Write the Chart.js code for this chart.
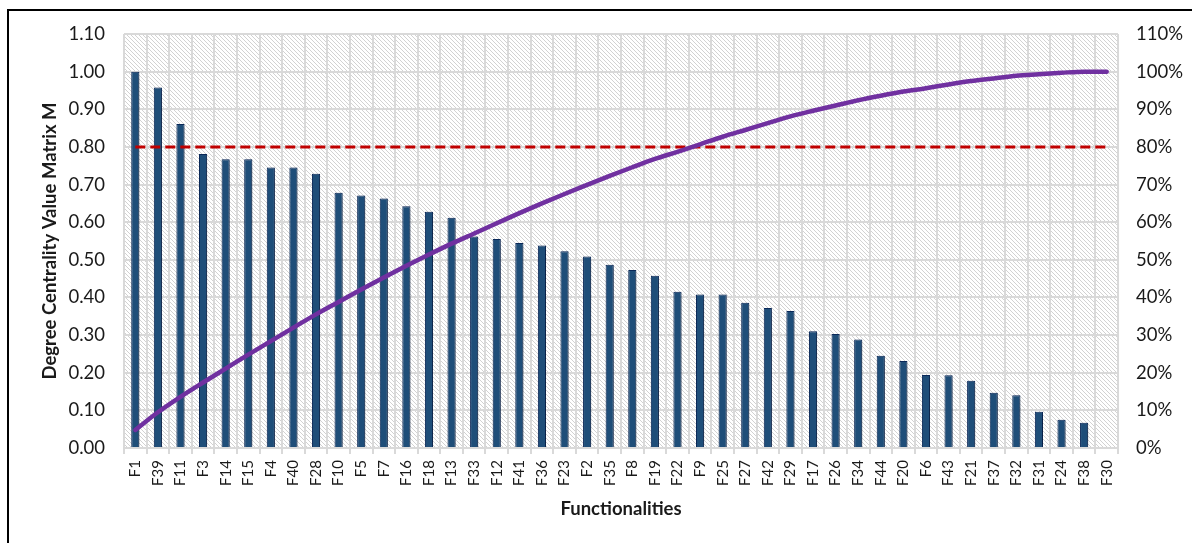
<!DOCTYPE html>
<html>
<head>
<meta charset="utf-8">
<script src="https://cdn.jsdelivr.net/npm/chart.js@4.4.0/dist/chart.umd.min.js"></script>
<style>
  html, body { margin: 0; padding: 0; background: #fff; overflow: hidden; }
  #wrap { position: relative; width: 1192px; height: 543px; }
  #frame { position: absolute; left: 7px; top: 9px; width: 1220px; height: 600px; border: 2px solid #000; }
  #c { position: absolute; left: 0; top: 0; }
</style>
</head>
<body>
<div id="wrap">
  <div id="frame"></div>
  <canvas id="c" width="1192" height="543"></canvas>
</div>
<script>
// degree centrality pareto chart

// --- data ---
const categories = ['F1','F39','F11','F3','F14','F15','F4','F40','F28','F10','F5','F7','F16','F18','F13','F33','F12','F41','F36','F23','F2','F35','F8','F19','F22','F9','F25','F27','F42','F29','F17','F26','F34','F44','F20','F6','F43','F21','F37','F32','F31','F24','F38','F30'];

const degree = [1.00,0.958,0.861,0.781,0.767,0.767,0.745,0.745,0.729,0.678,0.671,0.663,0.642,0.628,0.612,0.562,0.555,0.545,0.538,0.523,0.509,0.487,0.473,0.458,0.415,0.408,0.408,0.386,0.372,0.364,0.310,0.303,0.288,0.245,0.231,0.194,0.193,0.179,0.147,0.140,0.096,0.075,0.067,0];

// cumulative share, percent (right axis)
const cumulative = [4.8,9.5,13.6,17.4,21.1,24.8,28.4,32.0,35.5,38.8,42.1,45.3,48.4,51.4,54.3,57.0,59.7,62.4,65.0,67.5,69.9,72.3,74.6,76.8,78.7,80.7,82.7,84.5,86.3,88.1,89.6,91.0,92.4,93.6,94.7,95.6,96.6,97.5,98.2,98.9,99.3,99.7,100,100];

// 0.80 cut-off line, from first to last category
const cutoffCats = ['F1', 'F30'];
const cutoff = [0.80, 0.80];

const leftTicks = [0,0.1,0.2,0.3,0.4,0.5,0.6,0.7,0.8,0.9,1.0,1.1];

// --- helpers ---
const FONT = 'Lato, "Open Sans", sans-serif';
const TXT = '#1a1a1a';
const GRID = '#d9d9d9';

function hatch(ctx) {
  const p = document.createElement('canvas');
  p.width = 4; p.height = 4;
  const g = p.getContext('2d');
  g.fillStyle = '#fff';
  g.fillRect(0, 0, 4, 4);
  g.strokeStyle = '#d2d2d2';
  g.lineWidth = 1;
  g.beginPath();
  g.moveTo(0, 0); g.lineTo(4, 4);
  g.moveTo(-1, 3); g.lineTo(1, 5);
  g.moveTo(3, -1); g.lineTo(5, 1);
  g.stroke();
  return ctx.createPattern(p, 'repeat');
}

const plotBg = {
  id: 'plotBg',
  beforeDraw(chart) {
    const { ctx, chartArea: a } = chart;
    ctx.save();
    ctx.fillStyle = hatch(ctx);
    ctx.fillRect(a.left, a.top, a.width, a.height);
    ctx.restore();
  }
};

const barShadow = {
  id: 'barShadow',
  beforeDatasetDraw(chart, args) {
    if (args.meta.type !== 'bar') return;
    const ctx = chart.ctx;
    ctx.save();
    ctx.shadowColor = 'rgba(0,0,0,0.35)';
    ctx.shadowBlur = 6;
    ctx.shadowOffsetX = 3;
    ctx.shadowOffsetY = 2;
  },
  afterDatasetDraw(chart, args) {
    if (args.meta.type === 'bar') chart.ctx.restore();
  }
};

// --- chart ---
new Chart(document.getElementById('c'), {
  data: {
    labels: categories,
    datasets: [
      {
        type: 'line',
        label: 'cumulative',
        data: cumulative,
        yAxisID: 'y1',
        borderColor: '#7030a0',
        borderWidth: 4.5,
        borderCapStyle: 'round',
        pointRadius: 0,
        cubicInterpolationMode: 'monotone',
        order: 1
      },
      {
        type: 'line',
        label: 'cut-off',
        data: cutoffCats.map((c, i) => ({ x: c, y: cutoff[i] })),
        yAxisID: 'y',
        borderColor: '#c00000',
        borderWidth: 3,
        borderDash: [10, 5],
        pointRadius: 0,
        order: 2
      },
      {
        type: 'bar',
        label: 'degree',
        data: degree,
        yAxisID: 'y',
        backgroundColor: '#1f4e79',
        borderColor: '#0b2a5c',
        borderWidth: 1,
        barPercentage: 0.36,
        categoryPercentage: 1,
        order: 3
      }
    ]
  },
  options: {
    responsive: false,
    animation: false,
    layout: { padding: { top: 34, left: 0, right: 0, bottom: 0 } },
    plugins: { legend: { display: false }, tooltip: { enabled: false } },
    scales: {
      x: {
        grid: { offset: true, color: GRID, lineWidth: 2, tickLength: 6 },
        border: { color: GRID, width: 2 },
        ticks: { autoSkip: false, minRotation: 90, maxRotation: 90, padding: 6, color: TXT, font: { family: FONT, size: 15 } },
        title: { display: true, text: 'Functionalities', color: TXT, font: { family: FONT, size: 18.5, weight: 'bold' }, padding: { top: 0, bottom: 23 } },
        afterFit(s) { s.height = 95; }
      },
      y: {
        position: 'left',
        min: 0,
        max: 1.1,
        afterBuildTicks(s) { s.ticks = leftTicks.map(v => ({ value: v })); },
        ticks: { callback: v => v.toFixed(2), padding: 19, color: TXT, font: { family: FONT, size: 18.5 } },
        grid: { color: GRID, lineWidth: 2, drawTicks: false },
        border: { display: false },
        title: { display: true, text: 'Degree Centrality Value Matrix M', color: TXT, font: { family: FONT, size: 18.5, weight: 'bold' }, padding: { top: 39, bottom: 0 } },
        afterFit(s) { s.width = 124; }
      },
      y1: {
        position: 'right',
        min: 0,
        max: 110,
        ticks: { stepSize: 10, callback: v => v + '%', padding: 18, color: TXT, font: { family: FONT, size: 18.5 } },
        grid: { display: false, drawTicks: false },
        border: { display: false },
        afterFit(s) { s.width = 74; }
      }
    }
  },
  plugins: [plotBg, barShadow]
});
</script>
</body>
</html>
